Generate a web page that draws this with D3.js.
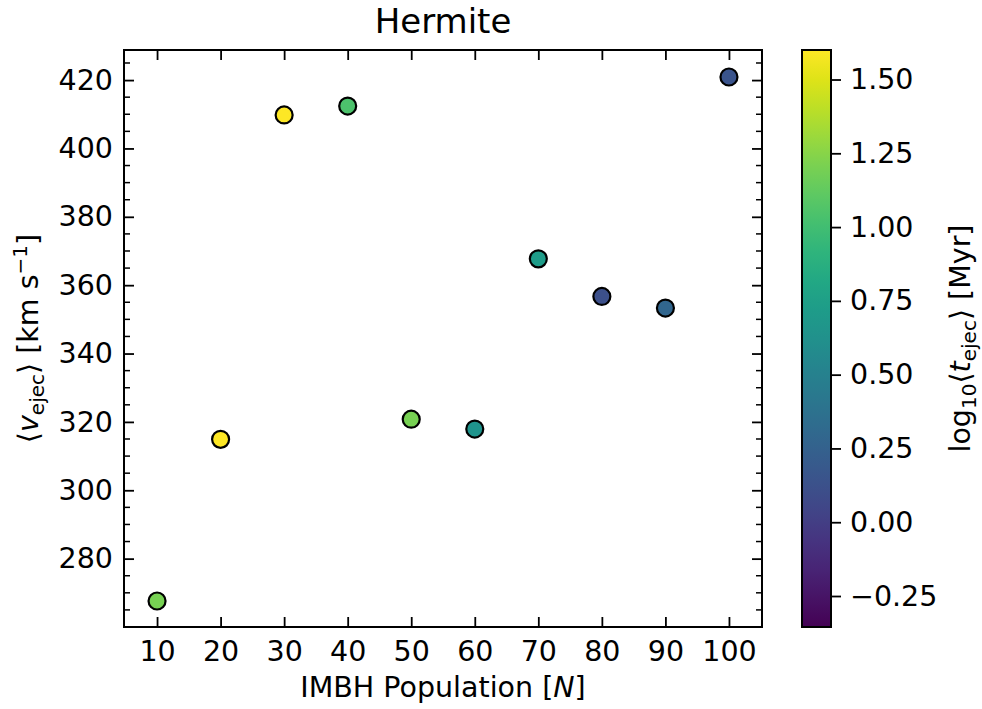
<!DOCTYPE html>
<html lang="en">
<head>
    <meta charset="UTF-8">
    <title>Hermite</title>
    <script src="https://d3js.org/d3.v7.min.js"></script>
    <style>
        body { margin: 0; background: #fff; }
        svg { font-family: "DejaVu Sans", sans-serif; }
        .tick text { fill: #000; }
    </style>
</head>
<body>
    <svg id="chart" width="982" height="709"></svg>

    <script>
        // data
        const population = [10, 20, 30, 40, 50, 60, 70, 80, 90, 100];
        const vEjec = [267.6, 314.9, 409.8, 412.4, 320.8, 317.9, 367.7, 356.7, 353.3, 420.9];
        const logTEjec = [1.2, 1.6, 1.6, 1.05, 1.2, 0.66, 0.72, 0.12, 0.28, 0.15];

        const xTicks = [10, 20, 30, 40, 50, 60, 70, 80, 90, 100];
        const yTicks = [280, 300, 320, 340, 360, 380, 400, 420];
        const cbarTicks = [-0.25, 0, 0.25, 0.5, 0.75, 1.0, 1.25, 1.5];
        const cbarRange = [-0.355, 1.6];

        var margin = {top: 50, left: 124, right: 220, bottom: 82},
            W = 982, H = 709,
            width = W - margin.left - margin.right,
            height = H - margin.top - margin.bottom;

        var fs = 28.5, subFs = 20;

        var svg = d3.select("#chart");
        var g = svg.append("g")
            .attr("transform", "translate(" + margin.left + "," + margin.top + ")");

        var x = d3.scaleLinear().domain([4.8, 105.2]).range([0, width]);
        var y = d3.scaleLinear().domain([260, 428.8]).range([height, 0]);
        var color = d3.scaleSequential(d3.interpolateViridis).domain(cbarRange);

        var tickLen = 10, minorLen = 6;

        // axes, ticks pointing inward
        function styleAxis(sel) {
            sel.attr("font-family", "DejaVu Sans").attr("font-size", fs);
            sel.select(".domain").remove();
            sel.selectAll(".tick line").attr("stroke", "#000").attr("stroke-width", 1.8);
        }

        g.append("g")
            .attr("transform", "translate(0," + height + ")")
            .call(d3.axisBottom(x).tickValues(xTicks).tickSizeInner(-tickLen).tickSizeOuter(0).tickPadding(14))
            .call(styleAxis);
        g.append("g")
            .call(d3.axisTop(x).tickValues(xTicks).tickSizeInner(-tickLen).tickSizeOuter(0).tickFormat(""))
            .call(styleAxis);
        g.append("g")
            .call(d3.axisLeft(y).tickValues(yTicks).tickSizeInner(-tickLen).tickSizeOuter(0).tickPadding(11))
            .call(styleAxis);
        g.append("g")
            .attr("transform", "translate(" + width + ",0)")
            .call(d3.axisRight(y).tickValues(yTicks).tickSizeInner(-tickLen).tickSizeOuter(0).tickFormat(""))
            .call(styleAxis);

        // minor y ticks every 5
        var minorY = d3.range(265, 428, 5).filter(v => v % 20 !== 0);
        g.append("g").selectAll("line.minl")
            .data(minorY).enter().append("line")
            .attr("x1", 0).attr("x2", minorLen)
            .attr("y1", d => y(d)).attr("y2", d => y(d))
            .attr("stroke", "#000").attr("stroke-width", 1.5);
        g.append("g").selectAll("line.minr")
            .data(minorY).enter().append("line")
            .attr("x1", width - minorLen).attr("x2", width)
            .attr("y1", d => y(d)).attr("y2", d => y(d))
            .attr("stroke", "#000").attr("stroke-width", 1.5);

        // frame
        g.append("rect")
            .attr("width", width).attr("height", height)
            .attr("fill", "none").attr("stroke", "#000").attr("stroke-width", 2);

        // points
        var pts = population.map((n, i) => ({n: n, v: vEjec[i], t: logTEjec[i]}));
        g.selectAll("circle")
            .data(pts).enter().append("circle")
            .attr("cx", d => x(d.n))
            .attr("cy", d => y(d.v))
            .attr("r", 8.5)
            .attr("fill", d => color(d.t))
            .attr("stroke", "#000")
            .attr("stroke-width", 2.2);

        // title
        svg.append("text")
            .attr("x", margin.left + width / 2).attr("y", 33)
            .attr("text-anchor", "middle")
            .attr("font-size", 34)
            .text("Hermite");

        // x label
        var xl = svg.append("text")
            .attr("x", margin.left + width / 2).attr("y", 697)
            .attr("text-anchor", "middle")
            .attr("font-size", fs);
        xl.append("tspan").text("IMBH Population [");
        xl.append("tspan").attr("font-style", "italic").text("N");
        xl.append("tspan").text("]");

        // y label
        var yl = svg.append("text")
            .attr("transform", "translate(38," + (margin.top + height / 2) + ") rotate(-90)")
            .attr("text-anchor", "middle")
            .attr("font-size", fs);
        yl.append("tspan").text("\u27E8");
        yl.append("tspan").attr("font-style", "italic").text("v");
        yl.append("tspan").attr("font-size", subFs).attr("dy", 6).text("ejec");
        yl.append("tspan").attr("dy", -6).text("\u27E9 [km s");
        yl.append("tspan").attr("font-size", subFs).attr("dy", -11).text("\u22121");
        yl.append("tspan").attr("dy", 11).text("]");

        // colorbar
        var cbX = 802, cbW = 29;
        var cy = d3.scaleLinear().domain(cbarRange).range([margin.top + height, margin.top]);

        var grad = svg.append("defs").append("linearGradient")
            .attr("id", "viridis")
            .attr("x1", "0%").attr("x2", "0%").attr("y1", "100%").attr("y2", "0%");
        d3.range(0, 1.0001, 0.05).forEach(function(t) {
            grad.append("stop")
                .attr("offset", (t * 100) + "%")
                .attr("stop-color", d3.interpolateViridis(t));
        });

        svg.append("rect")
            .attr("x", cbX).attr("y", margin.top)
            .attr("width", cbW).attr("height", height)
            .attr("fill", "url(#viridis)")
            .attr("stroke", "#000").attr("stroke-width", 2);

        svg.append("g")
            .attr("transform", "translate(" + (cbX + cbW) + ",0)")
            .call(d3.axisRight(cy).tickValues(cbarTicks).tickSizeInner(tickLen).tickSizeOuter(0).tickPadding(9)
                .tickFormat(d => d3.format(".2f")(d).replace("-", "\u2212")))
            .call(styleAxis);

        // colorbar label
        var cl = svg.append("text")
            .attr("transform", "translate(970," + (margin.top + height / 2) + ") rotate(-90)")
            .attr("text-anchor", "middle")
            .attr("font-size", fs);
        cl.append("tspan").text("log");
        cl.append("tspan").attr("font-size", subFs).attr("dy", 6).text("10");
        cl.append("tspan").attr("dy", -6).text("\u27E8");
        cl.append("tspan").attr("font-style", "italic").text("t");
        cl.append("tspan").attr("font-size", subFs).attr("dy", 6).text("ejec");
        cl.append("tspan").attr("dy", -6).text("\u27E9 [Myr]");
    </script>
</body>
</html>
